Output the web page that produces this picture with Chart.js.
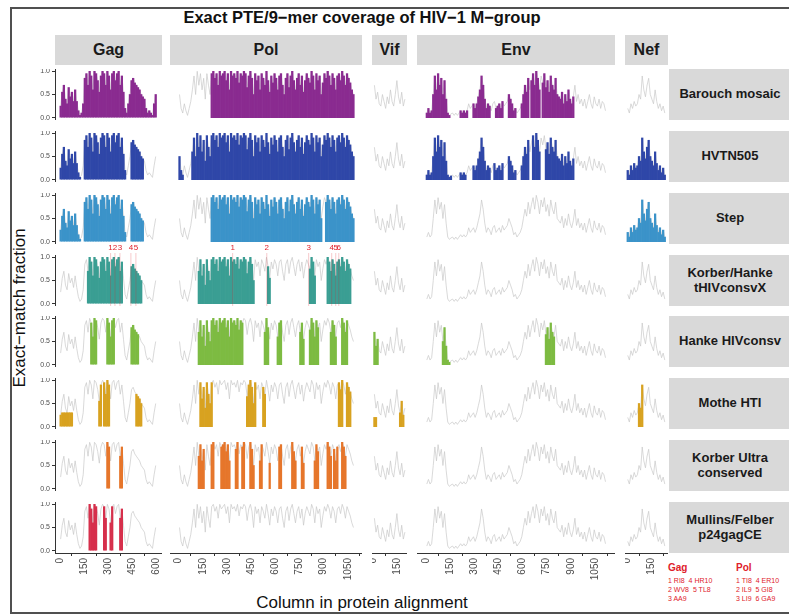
<!DOCTYPE html>
<html>
<head>
<meta charset="utf-8">
<script src="https://cdn.jsdelivr.net/npm/chart.js@4.4.1/dist/chart.umd.min.js"></script>
<style>
body{margin:0;background:#fff;font-family:"Liberation Sans",Arial,sans-serif;}
#page{position:relative;width:789px;height:615px;overflow:hidden;background:#fff;}
.abs{position:absolute;}
#frame{left:10px;top:7px;width:800px;height:607px;border:2px solid #505050;box-sizing:border-box;}
.strip{background:#d9d9d9;font-weight:bold;color:#1a1a1a;display:flex;align-items:center;justify-content:center;text-align:center;line-height:1.15;}
#title{left:0;width:724px;top:8px;text-align:center;font-weight:bold;font-size:16.5px;color:#111;}
#xlab{left:0;width:724px;top:593px;text-align:center;font-size:17px;color:#111;}
#ylab{left:-70px;top:298px;width:180px;text-align:center;font-size:17px;color:#111;transform:rotate(-90deg);}
.leg{color:#e0202a;font-size:7px;line-height:9px;white-space:pre;}
.leghead{color:#e0202a;font-size:10px;font-weight:bold;}
</style>
</head>
<body>
<div id="page">
  <div id="frame" class="abs"></div>
  <div id="title" class="abs">Exact PTE/9−mer coverage of HIV−1 M−group</div>
  <div id="xlab" class="abs">Column in protein alignment</div>
  <div id="ylab" class="abs">Exact−match fraction</div>
</div>
<script>
// facets
const proteins = ["Gag", "Pol", "Vif", "Env", "Nef"];
const vaccines = ["Barouch mosaic", "HVTN505", "Step", "Korber/Hanke\ntHIVconsvX", "Hanke HIVconsv",
                  "Mothe HTI", "Korber Ultra\nconserved", "Mullins/Felber\np24gagCE"];
const vaccineColors = ["#8a2b90", "#2f47a8", "#3b93c9", "#3a9e93", "#7dbb42", "#d8a220", "#e6762b", "#d62f4b"];

// coverage profile (fraction of M-group), one value per 10 alignment columns
const binWidth = 10;
const gagProfile = [0.25,0.55,0.7,0.4,0.3,0.65,0.45,0.55,0.35,0.6,
  0.35,0.15,0.05,0.1,0.3,
  0.85,0.95,0.7,1.0,0.9,0.6,1.0,0.95,0.8,0.55,0.9,1.0,0.95,0.7,1.0,0.9,0.6,0.95,1.0,0.8,0.95,1.0,0.7,0.9,0.55,
  0.2,0.1,0.3,0.5,
  0.8,0.85,0.75,0.7,0.65,0.6,0.5,0.45,0.4,
  0.2,0.1,0.15,0.1,0.05,0.3,0.5];
const polProfile = [0.5,0.2,0.1,0.3,0.15,0.05,0.2,0.35,
  0.6,0.9,0.5,1.0,0.7,0.95,0.6,0.85,0.4,0.95,0.7,0.5,
  0.95,1.0,0.85,0.95,0.7,1.0,0.9,0.95,1.0,0.8,
  0.95,0.6,1.0,0.9,0.95,0.85,1.0,0.75,0.95,0.9,
  1.0,0.95,0.65,0.9,1.0,0.85,0.5,0.95,0.8,0.9,
  0.6,0.95,0.85,0.7,1.0,0.8,0.55,0.9,0.75,0.95,
  0.85,0.6,0.9,0.95,0.7,0.5,0.85,0.95,0.65,0.9,
  1.0,0.8,0.6,0.85,0.95,0.7,0.9,0.55,0.8,0.95,
  0.85,0.75,1.0,0.9,0.6,0.95,0.8,0.9,0.5,0.75,
  0.95,0.85,1.0,0.9,0.7,0.95,0.85,0.6,0.9,0.95,
  0.8,1.0,0.9,0.7,0.95,0.85,0.75,0.6,0.5];
const vifProfile = [0.7,0.4,0.55,0.3,0.25,0.5,0.35,0.2,0.45,0.3,0.6,0.35,0.25,0.5,0.8,0.45,0.3,0.55,0.25,0.4];
const envProfile = [0.1,0.2,0.1,0.15,
  0.5,0.9,0.6,0.95,0.7,0.85,0.5,0.8,0.4,
  0.1,0.05,0.08,0.1,0.05,0.1,0.05,0.1,
  0.15,0.1,0.15,0.1,
  0.15,0.3,0.2,0.25,0.3,0.2,
  0.3,0.45,0.6,0.9,0.7,0.4,
  0.2,0.3,0.25,0.15,0.3,0.35,0.2,0.25,
  0.3,0.2,0.35,0.25,0.3,
  0.35,0.5,0.4,0.3,
  0.15,0.2,0.1,0.15,0.2,0.3,
  0.5,0.7,0.55,0.85,0.6,0.8,
  0.95,0.7,1.0,0.85,0.6,0.9,0.75,0.95,0.65,0.8,0.55,0.9,0.7,0.6,0.85,0.5,0.45,
  0.4,0.55,0.3,0.5,0.35,0.6,0.4,0.3,0.45,0.7,0.35,0.5,0.3,0.4,
  0.25,0.4,0.2,0.35,0.5,0.3,0.2,0.45,0.3,0.25,0.4,0.2,0.35,0.3,0.15];
const nefProfile = [0.2,0.1,0.3,0.2,0.35,0.25,0.3,0.5,0.4,0.9,0.6,0.45,0.7,0.85,0.5,0.4,0.3,0.6,0.35,0.2,0.3,0.15,0.25,0.1];
const profiles = [gagProfile, polProfile, vifProfile, envProfile, nefProfile];

// columns covered by each vaccine: [from, to] or [from, to, max fraction]
const barouchRanges = {Gag: [[0,600]], Pol: [[200,1090]],
  Env: [[0,150],[210,255],[290,400],[430,480],[510,555],[595,635],[655,710],[725,915]]};
const hvtn505Ranges = {Gag: [[0,125],[155,405],[440,520]], Pol: [[0,30],[80,1090]],
  Env: [[0,160],[210,250],[290,400],[420,475],[515,555],[595,640],[660,710],[740,915]], Nef: [[0,240]]};
const stepRanges = {Gag: [[0,125],[155,405],[440,520]], Pol: [[200,885],[915,1090]], Nef: [[0,240]]};
const tHIVconsvXRanges = {Gag: [[166,391],[441,509]], Pol: [[124,466],[547,565],[807,850],[919,1068]]};
const hivconsvRanges = {Gag: [[186,228],[290,342],[445,486]],
  Pol: [[124,404],[528,559],[609,640],[752,783],[814,866],[942,983],[1014,1045]],
  Vif: [[0,25]], Env: [[105,150],[740,800]]};
const htiRanges = {Gag: [[5,80,0.3],[245,262],[270,310],[475,505]],
  Pol: [[135,210],[425,478],[520,542],[995,1015],[1045,1067]], Vif: [[0,15,0.2],[165,190]], Nef: [[75,95]]};
const ultraRanges = {Gag: [[290,312],[372,392]],
  Pol: [[124,155],[197,217],[259,321],[352,373],[393,414],[445,466],[497,518],[559,570],[621,642],
        [704,725],[756,776],[838,870],[921,952],[963,994],[1014,1035]]};
const p24ceRanges = {Gag: [[176,207],[213,234],[275,292],[306,325],[375,393]]};
const vaccineRanges = [barouchRanges, hvtn505Ranges, stepRanges, tHIVconsvXRanges, hivconsvRanges,
                       htiRanges, ultraRanges, p24ceRanges];

// tHIVconsvX segment markers
const gagMarkers = [315, 342, 373, 441, 472];
const gagMarkerLabels = ["1", "2", "3", "4", "5"];
const polMarkers = [335, 547, 807, 950, 975, 994];
const polMarkerLabels = ["1", "2", "3", "4", "5", "6"];

// axes
const axisMin = [-30, -54, -10, -56, -12];
const axisMax = [634, 1138, 208, 1174, 255];
const gagTicks = [0, 150, 300, 450, 600];
const polTicks = [0, 150, 300, 450, 600, 750, 900, 1050];
const vifTicks = [0, 150];
const envTicks = [0, 150, 300, 450, 600, 750, 900, 1050];
const nefTicks = [0, 150];
const xTicks = [gagTicks, polTicks, vifTicks, envTicks, nefTicks];
const yTicks = [0, 0.5, 1.0];

// layout
const colLeft = [55, 170, 372, 417, 625];
const colWidth = [107, 192, 35, 198, 43];
const rowTop = r => Math.round(69 + r * 61.86);
const rowH = 51;
const yAxisW = 22, xAxisH = 40, markerPad = 14;
const page = document.getElementById('page');

const markerPlugin = {
  id: 'markers',
  afterDatasetsDraw(chart, args, opts) {
    if (!opts.positions) return;
    const ctx = chart.ctx, area = chart.chartArea, xs = chart.scales.x;
    ctx.save();
    ctx.strokeStyle = 'rgba(224,32,42,0.35)';
    ctx.lineWidth = 0.7;
    ctx.fillStyle = '#e0202a';
    ctx.font = '8px "Liberation Sans", Arial';
    ctx.textAlign = 'center';
    ctx.textBaseline = 'bottom';
    opts.positions.forEach((p, i) => {
      const x = xs.getPixelForValue(p);
      ctx.beginPath();
      ctx.moveTo(x, area.top - 2);
      ctx.lineTo(x, area.bottom);
      ctx.stroke();
      ctx.fillText(opts.labels[i], x, area.top - 3);
    });
    ctx.restore();
  }
};

function addDiv(cls, left, top, w, h, html, extra) {
  const d = document.createElement('div');
  d.className = 'abs ' + cls;
  d.style.left = left + 'px'; d.style.top = top + 'px';
  d.style.width = w + 'px'; d.style.height = h + 'px';
  if (extra) Object.assign(d.style, extra);
  d.innerHTML = html;
  page.appendChild(d);
  return d;
}

// top strips
proteins.forEach((p, c) => addDiv('strip', colLeft[c], 35, colWidth[c], 30, p, {fontSize: '16px'}));
// right strips
vaccines.forEach((v, r) => addDiv('strip', 669, rowTop(r), 122, rowH, v.replace('\n', '<br>'), {fontSize: '13px'}));

function makePanel(r, c) {
  const left = c === 0, bottom = r === 7;
  const padL = left ? yAxisW : 0;
  const padB = bottom ? xAxisH : 0;
  const padT = (r === 3 && c < 2) ? markerPad : 0;
  const W = colWidth[c] + padL, H = rowH + padT + padB;
  const holder = addDiv('', colLeft[c] - padL, rowTop(r) - padT, W, H, '');
  const cv = document.createElement('canvas');
  cv.width = W; cv.height = H;
  cv.style.width = W + 'px'; cv.style.height = H + 'px';
  holder.appendChild(cv);

  const prof = profiles[c];
  const ranges = vaccineRanges[r][proteins[c]] || [];
  const line = prof.map((v, i) => ({x: i * binWidth + binWidth / 2, y: v}));
  const bars = prof.map((v, i) => {
    const x = i * binWidth + binWidth / 2;
    const hit = ranges.find(g => x >= g[0] && x <= g[1]);
    return {x: x, y: hit ? (hit.length > 2 ? Math.min(v, hit[2]) : v) : null};
  });

  let markers = {};
  if (r === 3 && c === 0) markers = {positions: gagMarkers, labels: gagMarkerLabels};
  if (r === 3 && c === 1) markers = {positions: polMarkers, labels: polMarkerLabels};

  const axisLook = {
    grid: {display: true, drawOnChartArea: false, drawTicks: true, tickLength: 3, color: '#333', lineWidth: 1},
    border: {display: true, color: '#333', width: 1}
  };

  new Chart(cv, {
    type: 'bar',
    data: {
      datasets: [
        {type: 'line', data: line, borderColor: '#c8c8c8', borderWidth: 0.7, pointRadius: 0, tension: 0, order: 2},
        {type: 'bar', data: bars, backgroundColor: vaccineColors[r], borderWidth: 0,
         barPercentage: 1, categoryPercentage: 1, order: 1}
      ]
    },
    options: {
      responsive: false, animation: false, maintainAspectRatio: false,
      layout: {padding: {top: padT, left: 0, right: 0, bottom: 0}},
      plugins: {legend: {display: false}, tooltip: {enabled: false}, markers: markers},
      scales: {
        x: Object.assign({
          type: 'linear', min: axisMin[c], max: axisMax[c], offset: false, display: bottom,
          afterBuildTicks: s => { s.ticks = xTicks[c].map(v => ({value: v})); },
          afterFit: s => {
            s.height = bottom ? xAxisH : 0;
            s.paddingLeft = 0; s.paddingRight = 0;
          },
          ticks: {minRotation: 90, maxRotation: 90, autoSkip: false, padding: 2, color: '#4d4d4d',
                  font: {size: 10, family: '"Liberation Sans", Arial'}, callback: v => String(v)}
        }, axisLook),
        y: Object.assign({
          type: 'linear', min: -0.05, max: 1.05, display: left,
          afterBuildTicks: s => { s.ticks = yTicks.map(v => ({value: v})); },
          afterFit: s => {
            s.width = left ? yAxisW : 0;
            s.paddingTop = 0; s.paddingBottom = 0;
          },
          ticks: {padding: 2, color: '#4d4d4d', font: {size: 7, family: '"Liberation Sans", Arial'},
                  callback: v => v.toFixed(1)}
        }, axisLook)
      }
    },
    plugins: [markerPlugin]
  });
}

for (let r = 0; r < vaccines.length; r++)
  for (let c = 0; c < proteins.length; c++)
    makePanel(r, c);

// epitope key
addDiv('leghead', 668, 562, 40, 12, 'Gag');
addDiv('leg', 668, 576, 70, 30, '1 RI8  4 HR10\n2 WV8  5 TL8\n3 AA9');
addDiv('leghead', 736, 562, 40, 12, 'Pol');
addDiv('leg', 736, 576, 60, 30, '1 TI8  4 ER10\n2 IL9  5 GI8\n3 LI9  6 GA9');
</script>
</body>
</html>
